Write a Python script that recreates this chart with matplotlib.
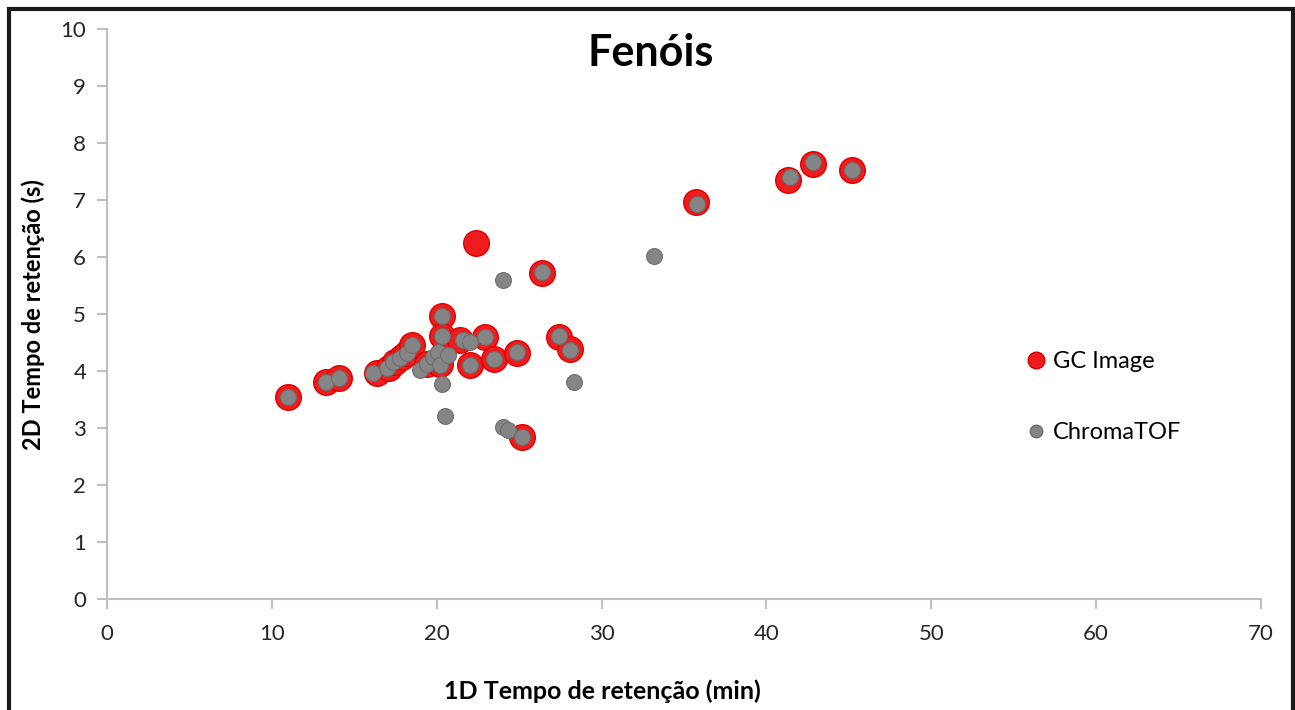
import matplotlib.pyplot as plt
from matplotlib.lines import Line2D
from matplotlib.patches import Rectangle

plt.rcParams['font.family'] = ['Lato', 'DejaVu Sans']

# GC Image (vermelho)
gc_x = [11.0, 13.3, 14.1, 16.4, 17.1, 17.5, 17.9, 18.2, 18.5, 19.4, 20.3, 20.3,
        20.2, 21.4, 22.9, 22.0, 23.5, 24.9, 27.4, 28.1, 25.2, 22.4, 26.4,
        35.7, 41.3, 42.8, 45.2]
gc_y = [3.54, 3.80, 3.88, 3.97, 4.05, 4.15, 4.24, 4.32, 4.46, 4.12, 4.96, 4.62,
        4.12, 4.55, 4.60, 4.10, 4.21, 4.32, 4.60, 4.38, 2.85, 6.25, 5.72,
        6.97, 7.35, 7.64, 7.52]

# ChromaTOF (cinza)
ct_x = [11.0, 13.3, 14.1, 16.15, 16.96, 17.36, 17.77, 18.17, 18.48, 19.0, 19.4,
        19.8, 20.1, 20.3, 20.3, 20.2, 20.7, 20.3, 20.5, 21.6, 22.0, 22.9, 22.0,
        23.5, 24.85, 27.4, 28.1, 28.3, 24.0, 24.3, 25.2, 24.0, 26.4, 33.2,
        35.8, 41.4, 42.8, 45.2]
ct_y = [3.54, 3.80, 3.88, 3.97, 4.05, 4.15, 4.22, 4.31, 4.46, 4.02, 4.13,
        4.25, 4.34, 4.97, 4.62, 4.10, 4.28, 3.78, 3.21, 4.55, 4.51, 4.60, 4.10,
        4.21, 4.33, 4.62, 4.37, 3.81, 3.02, 2.96, 2.85, 5.60, 5.73, 6.02,
        6.93, 7.41, 7.66, 7.52]

RED = "#EE1C1C"
GRAY = "#858585"
AXIS_GRAY = "#BFBFBF"

fig = plt.figure(figsize=(12.95, 7.10), dpi=100)
ax = fig.add_axes([107 / 1295, 1 - 599 / 710, (1261 - 107) / 1295, (599 - 29) / 710])

ax.scatter(gc_x, gc_y, s=340, c=RED, edgecolors="#E00000", linewidths=1.0, zorder=2)
ax.scatter(ct_x, ct_y, s=130, c=GRAY, edgecolors="#6E6E6E", linewidths=0.8, zorder=3)

ax.set_xlim(0, 70)
ax.set_ylim(0, 10)
ax.set_xticks(range(0, 71, 10))
ax.set_yticks(range(0, 11, 1))

for side in ["top", "right"]:
    ax.spines[side].set_visible(False)
for side in ["left", "bottom"]:
    ax.spines[side].set_color(AXIS_GRAY)
    ax.spines[side].set_linewidth(1.5)

ax.tick_params(axis="both", colors=AXIS_GRAY, labelcolor="#262626",
               labelsize=16, length=7, width=1.5, direction="out")
ax.tick_params(axis="x", pad=11)
ax.tick_params(axis="y", pad=8)

fig.text(651 / 1295, 1 - 53 / 710, "Fenóis", ha="center", va="center",
         fontsize=31, fontweight="bold", color="black")
fig.text(602 / 1295, 1 - 691 / 710, "1D Tempo de retenção (min)", ha="center",
         va="center", fontsize=18, fontweight="bold", color="black")
fig.text(33 / 1295, 1 - 315 / 710, "2D Tempo de retenção (s)", ha="center",
         va="center", rotation=90, fontsize=17, fontweight="bold", color="black")

handles = [
    Line2D([], [], linestyle="none", marker="o", markersize=12,
           markerfacecolor=RED, markeredgecolor="#E00000"),
    Line2D([], [], linestyle="none", marker="o", markersize=9,
           markerfacecolor=GRAY, markeredgecolor="#6E6E6E"),
]
fig.legend(handles, ["GC Image", "ChromaTOF"], loc="upper left",
           bbox_to_anchor=(1001 / 1295, 1 - 330 / 710), frameon=False,
           fontsize=17, labelspacing=2.1, handletextpad=0.1, handlelength=1.2)

# moldura preta em volta da figura
fig.patches.append(Rectangle((9 / 1295, -0.05), (1293 - 9) / 1295, 1.05 - 9 / 710,
                             transform=fig.transFigure, fill=False,
                             edgecolor="#1a1a1a", linewidth=3))

fig.savefig("out.png", dpi=100)
